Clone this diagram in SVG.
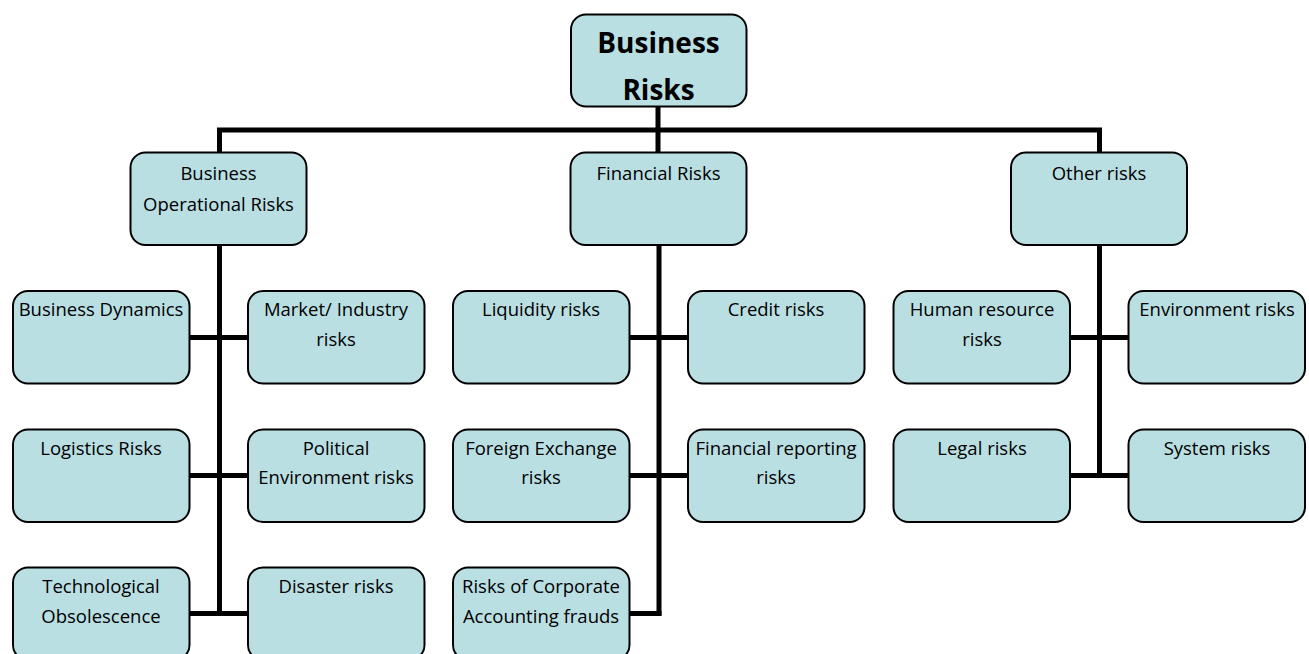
<svg xmlns="http://www.w3.org/2000/svg" width="1309" height="654" viewBox="0 0 1309 654">
<style>
.box{fill:#B9DFE3;stroke:#000;stroke-width:2}
.t{font-family:"Open Sans","Liberation Sans",sans-serif;font-size:18.5px;fill:#000;text-anchor:middle}
.tb{font-family:"Open Sans","Liberation Sans",sans-serif;font-size:28px;font-weight:bold;fill:#000;text-anchor:middle}
.c{stroke:#000;stroke-width:5;fill:none}
</style>
<rect width="1309" height="654" fill="#fff"/>
<g id="connectors">
<line class="c" x1="658" y1="106" x2="658" y2="153"/>
<polyline class="c" points="219.5,153 219.5,130 1099.5,130 1099.5,153"/>
<line class="c" x1="219.5" y1="245" x2="219.5" y2="615.5"/>
<line class="c" x1="189" y1="337.5" x2="248" y2="337.5"/>
<line class="c" x1="189" y1="475.5" x2="248" y2="475.5"/>
<line class="c" x1="189" y1="613.5" x2="248" y2="613.5"/>
<line class="c" x1="659" y1="245" x2="659" y2="615.5"/>
<line class="c" x1="629" y1="337.5" x2="688" y2="337.5"/>
<line class="c" x1="629" y1="475.5" x2="688" y2="475.5"/>
<line class="c" x1="629" y1="613.5" x2="661.5" y2="613.5"/>
<line class="c" x1="1099.5" y1="245" x2="1099.5" y2="478"/>
<line class="c" x1="1070" y1="337.5" x2="1129" y2="337.5"/>
<line class="c" x1="1070" y1="475.5" x2="1129" y2="475.5"/>
</g>
<g id="root"><rect class="box" x="571" y="14.5" width="175.5" height="92" rx="15"/><text class="tb" x="658.5" y="53">Business</text><text class="tb" x="658.5" y="100">Risks</text></g>
<g id="bor"><rect class="box" x="130.5" y="152.5" width="176" height="92.5" rx="15"/><text class="t" x="218.5" y="180">Business</text><text class="t" x="218.5" y="211">Operational Risks</text></g>
<g id="fin"><rect class="box" x="570.5" y="152.5" width="176" height="92.5" rx="15"/><text class="t" x="658.5" y="180">Financial Risks</text></g>
<g id="oth"><rect class="box" x="1011" y="152.5" width="176" height="92.5" rx="15"/><text class="t" x="1099" y="180">Other risks</text></g>
<g id="bd"><rect class="box" x="13" y="291" width="176.5" height="92.5" rx="15"/><text class="t" x="101" y="316">Business Dynamics</text></g>
<g id="mi"><rect class="box" x="248" y="291" width="176.5" height="92.5" rx="15"/><text class="t" x="336" y="316">Market/ Industry</text><text class="t" x="336" y="346">risks</text></g>
<g id="lr"><rect class="box" x="13" y="429.5" width="176.5" height="92.5" rx="15"/><text class="t" x="101" y="455">Logistics Risks</text></g>
<g id="pe"><rect class="box" x="248" y="429.5" width="176.5" height="92.5" rx="15"/><text class="t" x="336" y="455">Political</text><text class="t" x="336" y="484">Environment risks</text></g>
<g id="to"><rect class="box" x="13" y="567.5" width="176.5" height="92.5" rx="15"/><text class="t" x="101" y="593">Technological</text><text class="t" x="101" y="623">Obsolescence</text></g>
<g id="dr"><rect class="box" x="248" y="567.5" width="176.5" height="92.5" rx="15"/><text class="t" x="336" y="593">Disaster risks</text></g>
<g id="liq"><rect class="box" x="453" y="291" width="176.5" height="92.5" rx="15"/><text class="t" x="541" y="316">Liquidity risks</text></g>
<g id="cr"><rect class="box" x="688" y="291" width="176.5" height="92.5" rx="15"/><text class="t" x="776" y="316">Credit risks</text></g>
<g id="fx"><rect class="box" x="453" y="429.5" width="176.5" height="92.5" rx="15"/><text class="t" x="541" y="455">Foreign Exchange</text><text class="t" x="541" y="484">risks</text></g>
<g id="fr"><rect class="box" x="688" y="429.5" width="176.5" height="92.5" rx="15"/><text class="t" x="776" y="455">Financial reporting</text><text class="t" x="776" y="484">risks</text></g>
<g id="caf"><rect class="box" x="453" y="567.5" width="176.5" height="92.5" rx="15"/><text class="t" x="541" y="593">Risks of Corporate</text><text class="t" x="541" y="623">Accounting frauds</text></g>
<g id="hr"><rect class="box" x="893.5" y="291" width="176.5" height="92.5" rx="15"/><text class="t" x="982" y="316">Human resource</text><text class="t" x="982" y="346">risks</text></g>
<g id="env"><rect class="box" x="1128.5" y="291" width="176.5" height="92.5" rx="15"/><text class="t" x="1217" y="316">Environment risks</text></g>
<g id="leg"><rect class="box" x="893.5" y="429.5" width="176.5" height="92.5" rx="15"/><text class="t" x="982" y="455">Legal risks</text></g>
<g id="sys"><rect class="box" x="1128.5" y="429.5" width="176.5" height="92.5" rx="15"/><text class="t" x="1217" y="455">System risks</text></g>
</svg>
